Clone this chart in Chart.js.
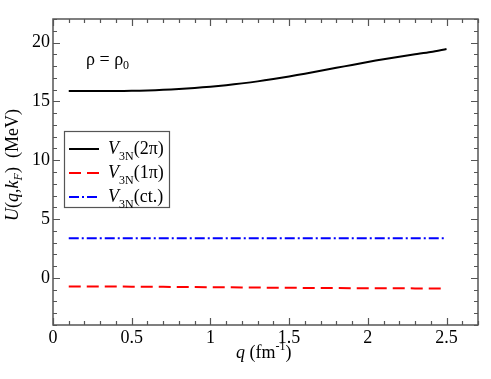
<!DOCTYPE html>
<html><head><meta charset="utf-8">
<script src="https://cdn.jsdelivr.net/npm/chart.js@4/dist/chart.umd.min.js"></script>
<style>html,body{margin:0;padding:0;background:#fff}#wrap{width:491px;height:379px}</style>
</head><body><div id="wrap"><canvas id="c" width="491" height="379"></canvas></div>
<script>
const qValues = [0.1,0.2,0.3,0.4,0.5,0.6,0.7,0.8,0.9,1.0,1.1,1.2,1.3,1.4,1.5,1.6,1.7,1.8,1.9,2.0,2.1,2.2,2.3,2.4,2.5];
const twoPi = [15.88,15.88,15.88,15.88,15.9,15.93,15.98,16.05,16.14,16.25,16.38,16.53,16.7,16.9,17.12,17.35,17.6,17.85,18.1,18.35,18.58,18.8,19.0,19.2,19.45];
const onePi = [-0.72,-0.72,-0.73,-0.73,-0.74,-0.75,-0.76,-0.77,-0.78,-0.79,-0.8,-0.81,-0.82,-0.83,-0.84,-0.85,-0.86,-0.86,-0.87,-0.87,-0.88,-0.88,-0.89,-0.89,-0.9];
const contact = [3.37,3.37,3.37,3.37,3.37,3.37,3.37,3.37,3.37,3.37,3.37,3.37,3.37,3.37,3.37,3.37,3.37,3.37,3.37,3.37,3.37,3.37,3.37,3.37,3.37];
const xTicks = [0,0.5,1,1.5,2,2.5];
const xTickLabels = ['0','0.5','1','1.5','2','2.5'];
const yTicks = [0,5,10,15,20];
const legendLabels = ['(2π)','(1π)','(ct.)'];

const SERIF = "'Liberation Serif', 'Times New Roman', serif";
const toPts = arr => arr.map((v,i)=>({x:qValues[i],y:v}));

const frameColor = '#555';

const decor = {
  id:'decor',
  afterDraw(chart){
    const ctx = chart.ctx, a = chart.chartArea;
    const xs = chart.scales.x, ys = chart.scales.y;
    ctx.save();
    ctx.strokeStyle = frameColor; ctx.lineWidth = 1.5;
    ctx.strokeRect(a.left, a.top, a.right-a.left, a.bottom-a.top);
    ctx.lineWidth = 1.2;
    ctx.beginPath();
    for (let i=0;i<=27;i++){
      const v = i/10; const px = Math.round(xs.getPixelForValue(v))+0.5;
      const len = (i%5===0)?7:4;
      ctx.moveTo(px,a.bottom); ctx.lineTo(px,a.bottom-len);
      ctx.moveTo(px,a.top); ctx.lineTo(px,a.top+len);
    }
    for (let v=-4; v<=22; v++){
      const py = Math.round(ys.getPixelForValue(v))+0.5;
      const len = (v%5===0)?7:4;
      ctx.moveTo(a.left,py); ctx.lineTo(a.left+len,py);
      ctx.moveTo(a.right,py); ctx.lineTo(a.right-len,py);
    }
    ctx.stroke();

    ctx.fillStyle = '#000';
    ctx.textBaseline = 'alphabetic';
    ctx.font = '18px '+SERIF;
    ctx.textAlign='left';
    let t = 'ρ = ρ';
    ctx.fillText(t, 86, 65);
    let w = ctx.measureText(t).width;
    ctx.font = '12px '+SERIF;
    ctx.fillText('0', 86+w, 69);

    const lx=64, ly=131, lw=105, lh=76;
    ctx.fillStyle='#fff'; ctx.fillRect(lx,ly,lw,lh);
    ctx.strokeStyle = frameColor; ctx.lineWidth=1.2;
    ctx.strokeRect(lx+0.5,ly+0.5,lw,lh);
    const ds = chart.data.datasets;
    for (let i=0;i<3;i++){
      const y = ly+18+i*24;
      ctx.save();
      ctx.strokeStyle = ds[i].borderColor; ctx.lineWidth=2;
      ctx.setLineDash(ds[i].borderDash||[]);
      ctx.beginPath(); ctx.moveTo(lx+5,y); ctx.lineTo(lx+35,y); ctx.stroke();
      ctx.restore();
      ctx.fillStyle='#000';
      ctx.font = 'italic 18px '+SERIF;
      ctx.fillText('V', lx+44, y+5);
      let vw = ctx.measureText('V').width;
      ctx.font = '12px '+SERIF;
      ctx.fillText('3N', lx+44+vw, y+11);
      let sw = ctx.measureText('3N').width;
      ctx.font = '18px '+SERIF;
      ctx.fillText(legendLabels[i], lx+44+vw+sw, y+5);
    }

    const parts = [['q','italic 18px',0],[' (fm','18px',0],['-1','12px',-8],[')','18px',0]];
    let x0 = 236;
    parts.forEach(p=>{ctx.font=p[1]+' '+SERIF; ctx.fillText(p[0], x0, 358+p[2]); x0+=ctx.measureText(p[0]).width;});

    ctx.save();
    ctx.translate(18, 165);
    ctx.rotate(-Math.PI/2);
    const yp = [['U','italic 18px',0],['(','18px',0],['q','italic 18px',0],[',','18px',0],['k','italic 18px',0],['F','italic 12px',4],[')  (MeV)','18px',0]];
    let total=0;
    yp.forEach(p=>{ctx.font=p[1]+' '+SERIF; total+=ctx.measureText(p[0]).width;});
    x0 = -total/2;
    yp.forEach(p=>{ctx.font=p[1]+' '+SERIF; ctx.fillText(p[0], x0, p[2]); x0+=ctx.measureText(p[0]).width;});
    ctx.restore();
    ctx.restore();
  }
};

function build(){
new Chart(document.getElementById('c'), {
  type:'line',
  data:{datasets:[
    {label:'V3N(2π)', data:toPts(twoPi), borderColor:'#000', borderWidth:2, pointRadius:0, tension:0.3, fill:false},
    {label:'V3N(1π)', data:toPts(onePi), borderColor:'#ff0000', borderWidth:2, borderDash:[12,6], pointRadius:0, fill:false},
    {label:'V3N(ct.)', data:toPts(contact), borderColor:'#0000ff', borderWidth:2, borderDash:[10,3,2,3], pointRadius:0, fill:false}
  ]},
  options:{
    responsive:false, animation:false, devicePixelRatio:1,
    layout:{padding:{top:19,right:13,left:0,bottom:0}},
    plugins:{legend:{display:false}, tooltip:{enabled:false}},
    scales:{
      x:{type:'linear', min:0, max:2.7,
        afterFit(s){s.height=54;},
        afterBuildTicks(s){s.ticks = xTicks.map(v=>({value:v}));},
        grid:{display:false, drawTicks:false}, border:{display:false},
        ticks:{padding:2, color:'#000', font:{family:SERIF,size:18}, maxRotation:0, autoSkip:false,
          callback:(v)=>{const i=xTicks.indexOf(v); return i>=0?xTickLabels[i]:'';}}},
      y:{type:'linear', min:-4, max:22,
        afterFit(s){s.width=53;},
        afterBuildTicks(s){s.ticks = yTicks.map(v=>({value:v}));},
        grid:{display:false, drawTicks:false}, border:{display:false},
        ticks:{padding:3, color:'#000', font:{family:SERIF,size:18}}}
    }
  },
  plugins:[decor]
});
}
Promise.all([
  document.fonts.load("18px 'Liberation Serif'"),
  document.fonts.load("italic 18px 'Liberation Serif'")
]).then(build, build);
</script>
</body></html>
